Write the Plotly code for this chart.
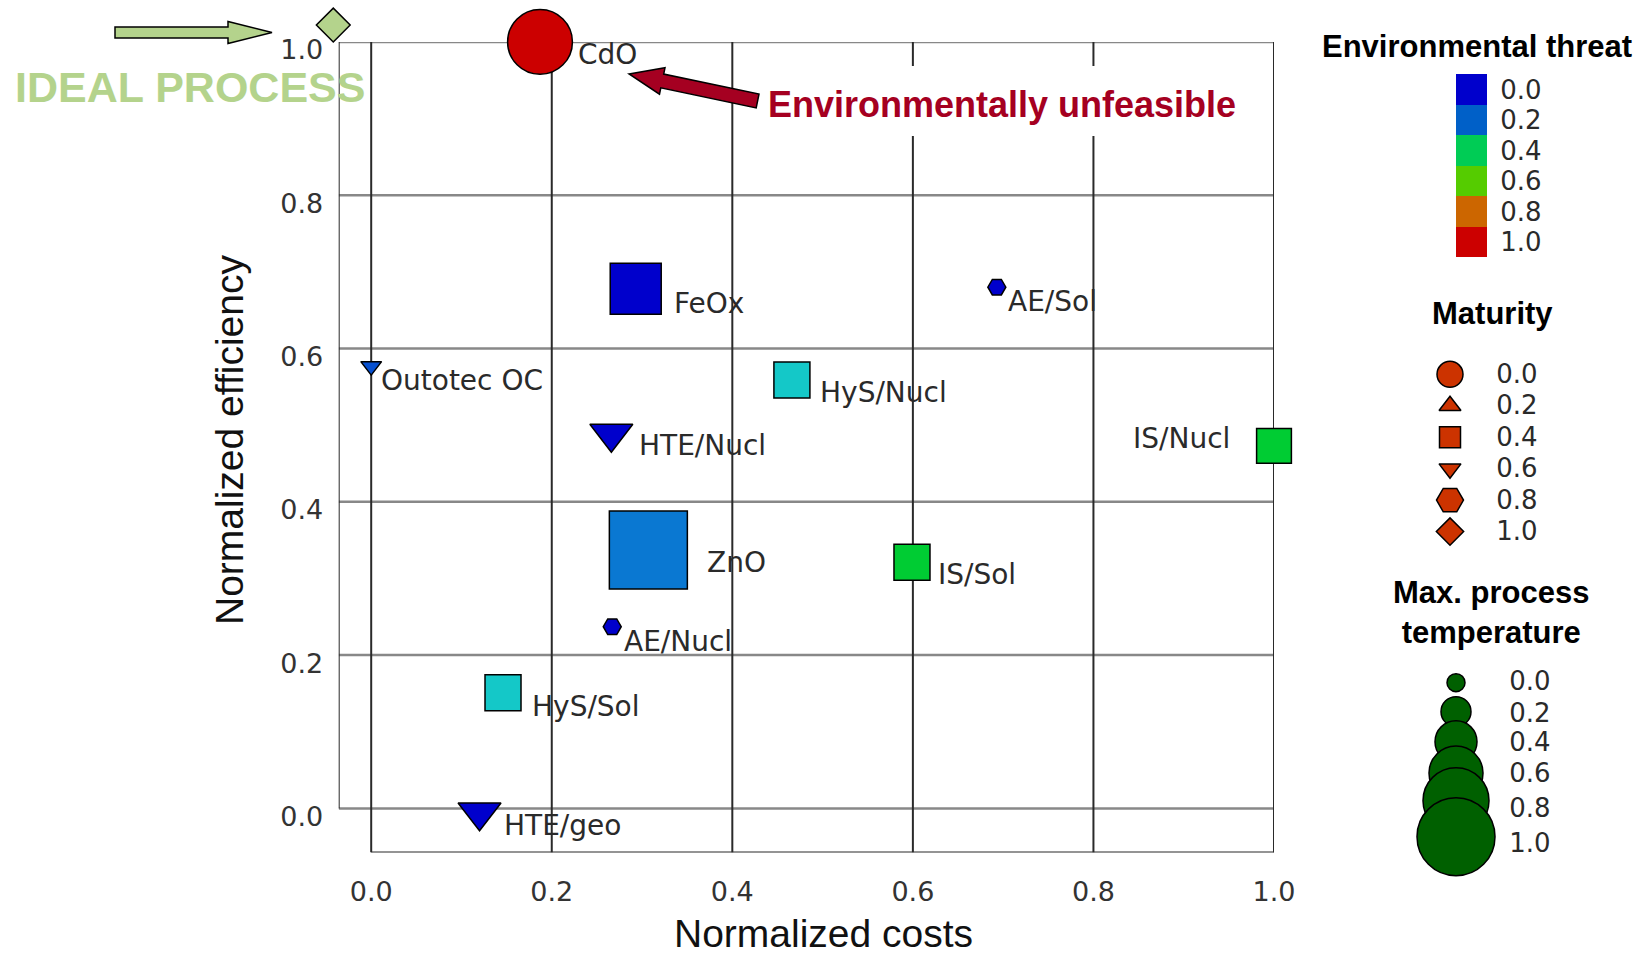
import numpy as np
import plotly.graph_objects as go

W, H = 1644, 956

# ---------------- data ----------------
processes = ["CdO", "FeOx", "AE/Sol", "Outotec OC", "HyS/Nucl", "HTE/Nucl",
             "IS/Nucl", "ZnO", "IS/Sol", "AE/Nucl", "HyS/Sol", "HTE/geo"]
norm_costs = [0.187, 0.293, 0.693, 0.0, 0.466, 0.266, 1.0, 0.307, 0.599, 0.267, 0.146, 0.120]
norm_efficiency = [1.0, 0.678, 0.680, 0.577, 0.559, 0.489, 0.473, 0.337, 0.321, 0.237, 0.151, -0.005]
env_threat = [1.0, 0.0, 0.0, 0.1, 0.3, 0.0, 0.45, 0.15, 0.45, 0.0, 0.3, 0.0]
maturity = [0.0, 0.4, 0.8, 0.6, 0.4, 0.6, 0.4, 0.4, 0.4, 0.8, 0.4, 0.6]
max_temperature = [0.78, 0.55, 0.0, 0.0, 0.30, 0.32, 0.28, 1.0, 0.30, 0.0, 0.30, 0.32]

ideal_cost = [-0.042]
ideal_efficiency = [1.022]
ideal_maturity = [1.0]

axis_ticks = [0.0, 0.2, 0.4, 0.6, 0.8, 1.0]
tick_labels = ["0.0", "0.2", "0.4", "0.6", "0.8", "1.0"]
legend_levels = [0.0, 0.2, 0.4, 0.6, 0.8, 1.0]
legend_labels = ["0.0", "0.2", "0.4", "0.6", "0.8", "1.0"]

# ---------------- styles ----------------
XMIN, YMIN = -0.036, -0.0574
X0_PX, X_PER_UNIT = 371.2, 902.8     # pixel of x=0, pixels per unit
Y0_PX, Y_PER_UNIT = 808.4, 766.5     # pixel of y=0, pixels per unit
X_LEFT_PX, X_RIGHT_PX = X0_PX + XMIN * X_PER_UNIT, X0_PX + X_PER_UNIT
Y_TOP_PX, Y_BOT_PX = Y0_PX - Y_PER_UNIT, Y0_PX - YMIN * Y_PER_UNIT

threat_block_colors = ["#0000cc", "#0060c8", "#00cc55", "#55cc00", "#cc6600", "#cc0000"]
point_colorscale = [[0.0, "#0000cc"], [0.15, "#0a78d2"], [0.3, "#14c8c8"],
                    [0.45, "#00cc33"], [0.6, "#55cc00"], [0.8, "#cc6600"], [1.0, "#cc0000"]]
block_colorscale = [[lv, c] for lv, c in zip(legend_levels, threat_block_colors)]
maturity_symbols = {0.0: "circle", 0.2: "triangle-up", 0.4: "square",
                    0.6: "triangle-down", 0.8: "hexagon2", 1.0: "diamond"}
legend_symbol_sizes = {"circle": 26, "triangle-up": 19, "square": 21,
                       "triangle-down": 19, "hexagon2": 27, "diamond": 21}


def temp_size(t):
    return 18 + 60 * t


label_dx = [36, 36, 9, 8, 26, 26, -42, 57, 24, 10, 27, 22]
label_dy = [12.5, 15, 14.4, 14, 13, 12, -7.5, 12, 12, 15, 14, 13]
label_anchor = ["left"] * 6 + ["right"] + ["left"] * 5

TXT = "#2a2a2a"
LAB_FONT = dict(family="DejaVu Sans", size=28, color=TXT)
TITLE_FONT = dict(family="Liberation Sans", size=31, color="#000000", weight="bold")
NUM_FONT = dict(family="DejaVu Sans", size=26, color=TXT)


def fx(x):
    return x / W


def fy(y):
    return 1 - y / H


def block_arrow(tail, tip, shaft_w, head_w, head_len):
    t = np.array(tail, float)
    p = np.array(tip, float)
    u = (p - t) / np.linalg.norm(p - t)
    n = np.array([-u[1], u[0]])
    b = p - head_len * u
    pts = [p, b + n * head_w / 2, b + n * shaft_w / 2, t + n * shaft_w / 2,
           t - n * shaft_w / 2, b - n * shaft_w / 2, b - n * head_w / 2]
    return "M " + " L ".join(f"{q[0]:.1f},{q[1]:.1f}" for q in pts) + " Z"


fig = go.Figure()

# main scatter
fig.add_trace(go.Scatter(
    x=norm_costs, y=norm_efficiency, mode="markers",
    marker=dict(symbol=[maturity_symbols[m] for m in maturity],
                size=[temp_size(t) for t in max_temperature],
                color=env_threat, colorscale=point_colorscale, cmin=0, cmax=1,
                line=dict(color="black", width=1.5), opacity=1),
    cliponaxis=False, hoverinfo="skip", showlegend=False))

# ideal process marker (same data scale, on a full-page overlay axis pair)
fig.add_trace(go.Scatter(
    x=ideal_cost, y=ideal_efficiency, mode="markers",
    marker=dict(symbol=[maturity_symbols[m] for m in ideal_maturity], size=26,
                color="#b4d38c", line=dict(color="black", width=1.5), opacity=1),
    xaxis="x3", yaxis="y3", cliponaxis=False, hoverinfo="skip", showlegend=False))

# ---------- legend: environmental threat colour blocks ----------
bar_top, bar_bot = 74, 257
edges = list(np.linspace(bar_top, bar_bot, len(legend_levels) + 1))
centers = [(a + b) / 2 for a, b in zip(edges[:-1], edges[1:])]
fig.add_trace(go.Heatmap(
    z=[[lv] for lv in legend_levels], x=[1456, 1487], y=edges,
    colorscale=block_colorscale, zmin=0, zmax=1, showscale=False,
    hoverinfo="skip", xaxis="x2", yaxis="y2"))
fig.add_trace(go.Scatter(
    x=[1521] * len(legend_labels), y=[c + 3 for c in centers], mode="text",
    text=legend_labels, textfont=NUM_FONT, xaxis="x2", yaxis="y2",
    cliponaxis=False, hoverinfo="skip", showlegend=False))

# ---------- legend: maturity ----------
mat_y = [374.3 + 31.45 * i for i in range(len(legend_levels))]
mat_syms = [maturity_symbols[lv] for lv in legend_levels]
fig.add_trace(go.Scatter(
    x=[1450] * len(legend_levels), y=mat_y, mode="markers",
    marker=dict(symbol=mat_syms, size=[legend_symbol_sizes[s] for s in mat_syms],
                color="#cc3300", line=dict(color="black", width=1.5), opacity=1),
    xaxis="x2", yaxis="y2", cliponaxis=False, hoverinfo="skip", showlegend=False))
fig.add_trace(go.Scatter(
    x=[1517] * len(legend_levels), y=[y + 2 for y in mat_y], mode="text",
    text=legend_labels, textfont=NUM_FONT, xaxis="x2", yaxis="y2",
    cliponaxis=False, hoverinfo="skip", showlegend=False))

# ---------- legend: max process temperature ----------
temp_marker_y = [682.7, 711.7, 741.7, 773.0, 800.7, 836.7]
temp_label_y = [683, 715, 744, 775, 810.7, 845]
fig.add_trace(go.Scatter(
    x=[1456] * len(legend_levels), y=temp_marker_y, mode="markers",
    marker=dict(symbol="circle", size=[temp_size(t) for t in legend_levels],
                color="#006000", line=dict(color="black", width=1.5), opacity=1),
    xaxis="x2", yaxis="y2", cliponaxis=False, hoverinfo="skip", showlegend=False))
fig.add_trace(go.Scatter(
    x=[1530] * len(legend_levels), y=temp_label_y, mode="text",
    text=legend_labels, textfont=NUM_FONT, xaxis="x2", yaxis="y2",
    cliponaxis=False, hoverinfo="skip", showlegend=False))

# ---------- grid / frame shapes ----------
shapes = []
for v in axis_ticks:
    shapes.append(dict(type="line", xref="x", yref="y", x0=XMIN, x1=1.0, y0=v, y1=v,
                       line=dict(color="#888888", width=2.5), layer="below"))
for v in axis_ticks:
    shapes.append(dict(type="line", xref="x", yref="y", x0=v, x1=v, y0=YMIN, y1=1.0,
                       line=dict(color="#2a2a2a", width=2), layer="below"))
shapes.append(dict(type="line", xref="x", yref="y", x0=XMIN, x1=XMIN, y0=0, y1=1.0,
                   line=dict(color="#2a2a2a", width=2), layer="below"))
shapes.append(dict(type="line", xref="x", yref="y", x0=0, x1=1.0, y0=YMIN, y1=YMIN,
                   line=dict(color="#2a2a2a", width=2), layer="below"))
# white box behind the "Environmentally unfeasible" note
shapes.append(dict(type="rect", xref="x2", yref="y2", x0=760, x1=1255, y0=66, y1=136,
                   fillcolor="white", line=dict(width=0), layer="below"))
# arrows
shapes.append(dict(type="path", xref="x2", yref="y2",
                   path=block_arrow((757.6, 101), (629, 74), 14, 27, 34),
                   fillcolor="#a50021", line=dict(color="black", width=1.5), layer="above"))
shapes.append(dict(type="path", xref="x2", yref="y2",
                   path=block_arrow((115, 32.5), (272, 32.5), 11, 22, 44),
                   fillcolor="#b4d38c", line=dict(color="black", width=1.5), layer="above"))

# ---------- annotations ----------
ann = []
for name, x, y, dx, dy, anc in zip(processes, norm_costs, norm_efficiency,
                                    label_dx, label_dy, label_anchor):
    ann.append(dict(x=x, y=y, xref="x", yref="y", text=name, showarrow=False,
                    xanchor=anc, yanchor="middle", xshift=dx, yshift=-dy, font=LAB_FONT))

ann += [
    dict(x=fx(823), y=fy(933), xref="paper", yref="paper", text="Normalized costs",
         showarrow=False, xanchor="center", yanchor="middle",
         font=dict(family="Liberation Sans", size=39, color="#111111")),
    dict(x=fx(229), y=fy(440), xref="paper", yref="paper", text="Normalized efficiency",
         showarrow=False, xanchor="center", yanchor="middle", textangle=-90,
         font=dict(family="Liberation Sans", size=39, color="#111111")),
    dict(x=fx(766), y=fy(105), xref="paper", yref="paper", text="Environmentally unfeasible",
         showarrow=False, xanchor="left", yanchor="middle",
         font=dict(family="Liberation Sans", size=36, color="#a50021", weight="bold")),
    dict(x=fx(13), y=fy(87), xref="paper", yref="paper", text="IDEAL PROCESS",
         showarrow=False, xanchor="left", yanchor="middle",
         font=dict(family="Liberation Sans", size=43, color="#b4d38c", weight="bold")),
    dict(x=fx(1477), y=fy(46), xref="paper", yref="paper", text="Environmental threat",
         showarrow=False, xanchor="center", yanchor="middle", font=TITLE_FONT),
    dict(x=fx(1492), y=fy(313), xref="paper", yref="paper", text="Maturity",
         showarrow=False, xanchor="center", yanchor="middle", font=TITLE_FONT),
    dict(x=fx(1491), y=fy(612), xref="paper", yref="paper", text="Max. process<br>temperature",
         showarrow=False, xanchor="center", yanchor="middle", font=TITLE_FONT),
]

fig.update_layout(
    width=W, height=H, autosize=False, template="none",
    margin=dict(l=0, r=0, t=0, b=0, pad=0),
    paper_bgcolor="white", plot_bgcolor="rgba(0,0,0,0)",
    showlegend=False,
    xaxis=dict(domain=[fx(X_LEFT_PX), fx(X_RIGHT_PX)], range=[XMIN, 1.0],
               tickmode="array", tickvals=axis_ticks, ticktext=tick_labels,
               showgrid=False, zeroline=False, showline=False, automargin=False,
               ticks="outside", ticklen=15, tickcolor="rgba(0,0,0,0)",
               tickfont=dict(family="DejaVu Sans", size=27, color="#333333"),
               anchor="y", fixedrange=True),
    yaxis=dict(domain=[fy(Y_BOT_PX), fy(Y_TOP_PX)], range=[YMIN, 1.0],
               tickmode="array", tickvals=axis_ticks, ticktext=tick_labels,
               showgrid=False, zeroline=False, showline=False, automargin=False,
               ticks="outside", ticklen=9, tickcolor="rgba(0,0,0,0)",
               ticklabelshift=8,
               tickfont=dict(family="DejaVu Sans", size=27, color="#333333"),
               anchor="x", fixedrange=True),
    # full-page pixel axes for legend & decorations
    xaxis2=dict(domain=[0, 1], range=[0, W], visible=False, anchor="y2", fixedrange=True),
    yaxis2=dict(domain=[0, 1], range=[H, 0], visible=False, anchor="x2", fixedrange=True),
    # full-page axes carrying the same data scale as the main axes
    xaxis3=dict(domain=[0, 1], range=[(0 - X0_PX) / X_PER_UNIT, (W - X0_PX) / X_PER_UNIT],
                visible=False, anchor="y3", fixedrange=True),
    yaxis3=dict(domain=[0, 1], range=[(Y0_PX - H) / Y_PER_UNIT, Y0_PX / Y_PER_UNIT],
                visible=False, anchor="x3", fixedrange=True),
    shapes=shapes, annotations=ann,
)

fig.write_html("out.html",
               config={"displayModeBar": False, "staticPlot": True},
               post_script="document.body.style.margin='0px';"
                           "document.body.style.overflow='hidden';")
